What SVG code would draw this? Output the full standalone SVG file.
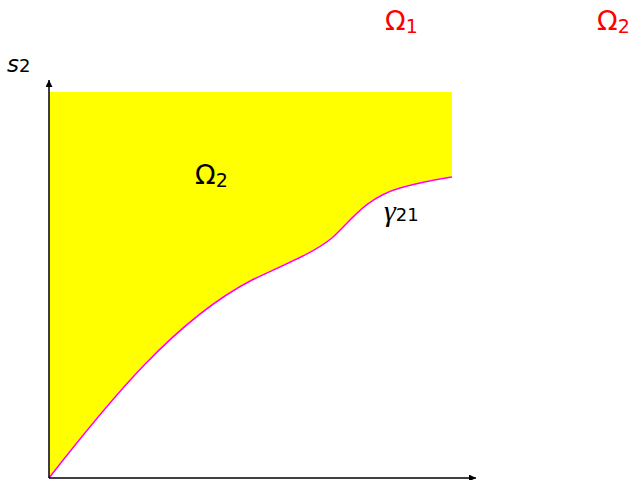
<svg xmlns="http://www.w3.org/2000/svg" width="630" height="480" viewBox="0 0 630 480">
<style>
.t{font-family:"DejaVu Sans",sans-serif;}
.red{fill:#ff0000;}
.blk{fill:#000;}
</style>
<defs>
<marker id="ah" viewBox="0 0 10 10" refX="10" refY="5" markerWidth="7" markerHeight="7" markerUnits="userSpaceOnUse" orient="auto">
<path d="M0,0 L10,5 L0,10 z" fill="#000"/>
</marker>
</defs>
<g id="region">
<path d="M49,478 C110,400 175,320 252,280 C290,262 315,252 332,238 C350,222 365,198 400,188 C425,181 440,179 452,177 L452,92 L49,92 Z" fill="#ffff00"/>
</g>
<g id="curve">
<path d="M49,478 C110,400 175,320 252,280 C290,262 315,252 332,238 C350,222 365,198 400,188 C425,181 440,179 452,177" fill="none" stroke="#ff00ff" stroke-width="1.5"/>
</g>
<g id="connectors">
<line x1="49" y1="478" x2="49" y2="80" stroke="#000" stroke-width="1.5" marker-end="url(#ah)"/>
<line x1="49" y1="478" x2="476" y2="478" stroke="#000" stroke-width="1.5" marker-end="url(#ah)"/>
</g>
<g id="labels">
<text class="t blk" x="7" y="72" font-size="23" font-style="italic">s<tspan font-size="18" font-style="normal">2</tspan></text>
<text class="t red" x="385" y="30" font-size="27">Ω<tspan font-size="19" dy="3">1</tspan></text>
<text class="t red" x="597" y="30" font-size="27">Ω<tspan font-size="19" dy="3">2</tspan></text>
<text class="t blk" x="195" y="184" font-size="27">Ω<tspan font-size="19" dy="3">2</tspan></text>
<text x="384" y="221" font-size="30" font-style="italic" font-family="'Liberation Serif',serif" fill="#000">γ<tspan class="t" font-size="18" font-style="normal">21</tspan></text>
</g>
</svg>
